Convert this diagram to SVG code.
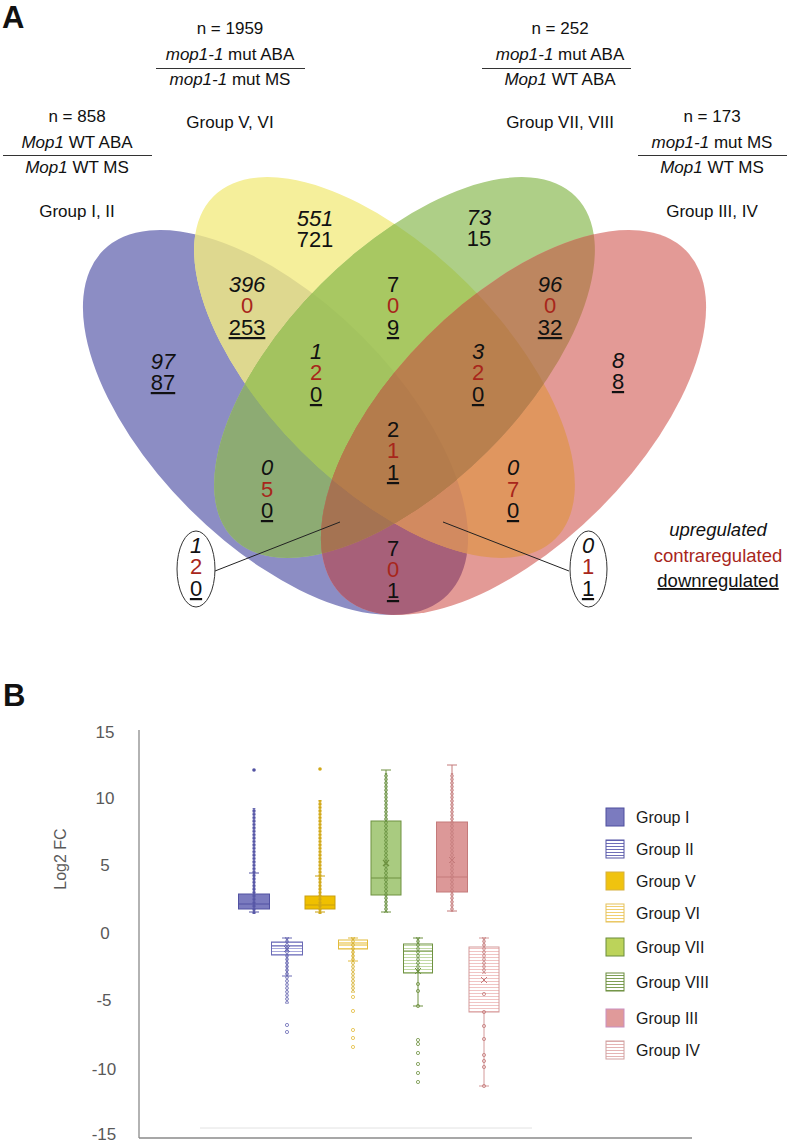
<svg xmlns="http://www.w3.org/2000/svg" xmlns:xlink="http://www.w3.org/1999/xlink" width="789" height="1142" viewBox="0 0 789 1142">
<style>
text{font-family:"Liberation Sans",Arial,sans-serif;fill:#111}
.lab{font-size:17px;text-anchor:middle}
.n{font-size:22px;text-anchor:middle}
.i{font-style:italic}
.c{fill:#a8261b}
.u{text-decoration:underline}
.tick{font-size:17px;text-anchor:middle;fill:#595959}
.leg{font-size:16px;fill:#1a1a1a}
.ax{stroke:#8a8a8a;stroke-width:1.3;fill:none}
.rule{stroke:#333;stroke-width:1}
.bx line,.bx rect{stroke-width:1}
</style>
<defs>
<ellipse id="eB" cx="275.5" cy="422.5" rx="243.5" ry="122" transform="rotate(45 275.5 422.5)"/>
<ellipse id="eY" cx="384.5" cy="367.5" rx="242" ry="118" transform="rotate(45 384.5 367.5)"/>
<ellipse id="eG" cx="404.5" cy="367.5" rx="242" ry="118" transform="rotate(-45 404.5 367.5)"/>
<ellipse id="eR" cx="513.5" cy="422.5" rx="243.5" ry="122" transform="rotate(-45 513.5 422.5)"/>
<clipPath id="cB"><use href="#eB"/></clipPath>
<clipPath id="cY"><use href="#eY"/></clipPath>
<clipPath id="cG"><use href="#eG"/></clipPath>
<pattern id="hB" patternUnits="userSpaceOnUse" width="4" height="3"><rect width="4" height="3" fill="#fff"/><rect width="4" height="1" fill="#a8a8dc"/></pattern>
<pattern id="hY" patternUnits="userSpaceOnUse" width="4" height="3"><rect width="4" height="3" fill="#fff"/><rect width="4" height="1" fill="#f5dc8a"/></pattern>
<pattern id="hG" patternUnits="userSpaceOnUse" width="4" height="3"><rect width="4" height="3" fill="#fff"/><rect width="4" height="1" fill="#c2d9a6"/></pattern>
<pattern id="hR" patternUnits="userSpaceOnUse" width="4" height="3"><rect width="4" height="3" fill="#fff"/><rect width="4" height="1" fill="#f0c4c4"/></pattern>
<pattern id="lhB" patternUnits="userSpaceOnUse" width="4" height="3"><rect width="4" height="3" fill="#fff"/><rect width="4" height="1" fill="#6f6fb8"/></pattern>
<pattern id="lhY" patternUnits="userSpaceOnUse" width="4" height="3"><rect width="4" height="3" fill="#fff"/><rect width="4" height="1" fill="#f0cf70"/></pattern>
<pattern id="lhG" patternUnits="userSpaceOnUse" width="4" height="3"><rect width="4" height="3" fill="#fff"/><rect width="4" height="1" fill="#7f9f55"/></pattern>
<pattern id="lhR" patternUnits="userSpaceOnUse" width="4" height="3"><rect width="4" height="3" fill="#fff"/><rect width="4" height="1" fill="#e4b4b4"/></pattern>
<pattern id="fB" patternUnits="userSpaceOnUse" x="-3" width="6" height="3.4"><circle cx="3" cy="1.7" r="1.7" fill="#5656a6"/></pattern>
<pattern id="fY" patternUnits="userSpaceOnUse" x="-3" width="6" height="3.4"><circle cx="3" cy="1.7" r="1.7" fill="#d1a817"/></pattern>
<pattern id="rB" patternUnits="userSpaceOnUse" x="-3" width="6" height="3.6"><circle cx="3" cy="1.8" r="1.4" fill="none" stroke="#5a5aaa" stroke-width="0.8"/></pattern>
<pattern id="rY" patternUnits="userSpaceOnUse" x="-3" width="6" height="3.6"><circle cx="3" cy="1.8" r="1.4" fill="none" stroke="#d2aa20" stroke-width="0.8"/></pattern>
<pattern id="rG" patternUnits="userSpaceOnUse" x="-3" width="6" height="3.6"><circle cx="3" cy="1.8" r="1.4" fill="none" stroke="#5f8a35" stroke-width="0.8"/></pattern>
<pattern id="rR" patternUnits="userSpaceOnUse" x="-3" width="6" height="3.6"><circle cx="3" cy="1.8" r="1.4" fill="none" stroke="#c47a7a" stroke-width="0.8"/></pattern>
<circle id="o" r="1.6"/>
<path id="mx" d="M-3-3l6 6m0-6l-6 6"/>
</defs>
<rect width="789" height="1142" fill="#fff"/>

<text x="2" y="28" style="font-size:31px;font-weight:bold">A</text>

<g id="venn-sets">
<use href="#eB" fill="#8c8dc4"/>
<use href="#eY" fill="#f5ef9b"/>
<use href="#eG" fill="#aecf87"/>
<use href="#eR" fill="#e39a96"/>
<g clip-path="url(#cB)"><use href="#eY" fill="#ded88f"/><use href="#eG" fill="#8dab73"/><use href="#eR" fill="#a76079"/></g>
<g clip-path="url(#cY)"><use href="#eG" fill="#a8c862"/><use href="#eR" fill="#e0965f"/></g>
<g clip-path="url(#cG)"><use href="#eR" fill="#bd8660"/></g>
<g clip-path="url(#cB)"><g clip-path="url(#cY)"><use href="#eG" fill="#a3c35f"/><use href="#eR" fill="#d28a60"/></g><g clip-path="url(#cG)"><use href="#eR" fill="#a57352"/></g></g>
<g clip-path="url(#cY)"><g clip-path="url(#cG)"><use href="#eR" fill="#b9804e"/></g></g>
<g clip-path="url(#cB)"><g clip-path="url(#cY)"><g clip-path="url(#cG)"><use href="#eR" fill="#b47c4c"/></g></g></g>
</g>

<g id="set-labels">
<g id="label-mut-aba-ms">
<text class="lab" x="230" y="34">n = 1959</text>
<text class="lab" x="230" y="60"><tspan class="i">mop1-1</tspan> mut ABA</text>
<line class="rule" x1="156" y1="68.5" x2="305" y2="68.5"/>
<text class="lab" x="230" y="85"><tspan class="i">mop1-1</tspan> mut MS</text>
<text class="lab" x="230" y="128">Group V, VI</text>
</g>
<g id="label-wt-aba-ms">
<text class="lab" x="77" y="122">n = 858</text>
<text class="lab" x="77" y="148"><tspan class="i">Mop1</tspan> WT ABA</text>
<line class="rule" x1="3" y1="155.5" x2="152" y2="155.5"/>
<text class="lab" x="77" y="173"><tspan class="i">Mop1</tspan> WT MS</text>
<text class="lab" x="77" y="217">Group I, II</text>
</g>
<g id="label-aba-mut-wt">
<text class="lab" x="560" y="34">n = 252</text>
<text class="lab" x="560" y="60"><tspan class="i">mop1-1</tspan> mut ABA</text>
<line class="rule" x1="482" y1="68.5" x2="631" y2="68.5"/>
<text class="lab" x="560" y="85"><tspan class="i">Mop1</tspan> WT ABA</text>
<text class="lab" x="560" y="128">Group VII, VIII</text>
</g>
<g id="label-ms-mut-wt">
<text class="lab" x="712" y="122">n = 173</text>
<text class="lab" x="712" y="148"><tspan class="i">mop1-1</tspan> mut MS</text>
<line class="rule" x1="638" y1="155.5" x2="787" y2="155.5"/>
<text class="lab" x="712" y="173"><tspan class="i">Mop1</tspan> WT MS</text>
<text class="lab" x="712" y="217">Group III, IV</text>
</g>
</g>

<g id="venn-counts">
<text class="n i" x="315" y="226">551</text><text class="n" x="315" y="247">721</text>
<text class="n i" x="479" y="225">73</text><text class="n" x="479" y="246">15</text>
<text class="n i" x="247" y="292">396</text><text class="n c" x="247" y="313">0</text><text class="n u" x="247" y="335">253</text>
<text class="n" x="393" y="292">7</text><text class="n c" x="393" y="313">0</text><text class="n u" x="393" y="335">9</text>
<text class="n i" x="550" y="292">96</text><text class="n c" x="550" y="313">0</text><text class="n u" x="550" y="335">32</text>
<text class="n i" x="163" y="369">97</text><text class="n u" x="163" y="390">87</text>
<text class="n i" x="618" y="368">8</text><text class="n u" x="618" y="389">8</text>
<text class="n i" x="316" y="359">1</text><text class="n c" x="316" y="380">2</text><text class="n u" x="316" y="402">0</text>
<text class="n i" x="478" y="359">3</text><text class="n c" x="478" y="380">2</text><text class="n u" x="478" y="402">0</text>
<text class="n" x="393" y="437">2</text><text class="n c" x="393" y="458">1</text><text class="n u" x="393" y="480">1</text>
<text class="n i" x="267" y="475">0</text><text class="n c" x="267" y="497">5</text><text class="n u" x="267" y="518">0</text>
<text class="n i" x="513" y="475">0</text><text class="n c" x="513" y="497">7</text><text class="n u" x="513" y="518">0</text>
<text class="n" x="393" y="556">7</text><text class="n c" x="393" y="577">0</text><text class="n u" x="393" y="598">1</text>
</g>

<g id="connectors">
<line x1="215" y1="571" x2="340" y2="522" stroke="#222" stroke-width="1"/>
<line x1="443" y1="522" x2="569" y2="571" stroke="#222" stroke-width="1"/>
</g>

<g id="callout-left">
<ellipse cx="196" cy="569" rx="19" ry="38" fill="#fff" stroke="#333" stroke-width="1"/>
<text class="n i" x="196" y="553">1</text><text class="n c" x="196" y="574">2</text><text class="n u" x="196" y="596">0</text>
</g>
<g id="callout-right">
<ellipse cx="588.5" cy="569" rx="18.5" ry="38" fill="#fff" stroke="#333" stroke-width="1"/>
<text class="n i" x="588" y="553">0</text><text class="n c" x="588" y="574">1</text><text class="n u" x="588" y="596">1</text>
</g>

<g id="venn-legend" style="font-size:18.5px">
<text x="718" y="536" text-anchor="middle" class="i" style="font-size:18.5px">upregulated</text>
<text x="718" y="562" text-anchor="middle" class="c" style="font-size:18.5px">contraregulated</text>
<text x="718" y="587" text-anchor="middle" class="u" style="font-size:18.5px">downregulated</text>
</g>

<text x="3" y="706" style="font-size:31px;font-weight:bold">B</text>

<g id="axes">
<line class="ax" x1="139" y1="730" x2="139" y2="1138"/>
<line class="ax" x1="139" y1="1138" x2="692" y2="1138"/>
<line x1="200" y1="1128" x2="532" y2="1128" stroke="#e2e2e2" stroke-width="1"/>
<text class="tick" x="105" y="738">15</text>
<text class="tick" x="105" y="804">10</text>
<text class="tick" x="105" y="871">5</text>
<text class="tick" x="105" y="939">0</text>
<text class="tick" x="104" y="1006">-5</text>
<text class="tick" x="104" y="1075">-10</text>
<text class="tick" x="104" y="1140">-15</text>
<text transform="translate(66 859) rotate(-90)" text-anchor="middle" style="font-size:16px;fill:#595959">Log2 FC</text>
</g>

<g id="box-group-I" class="bx" transform="translate(254 0)" stroke="#5252a2">
<line x1="0" y1="873" x2="0" y2="912"/><line x1="-5" y1="873" x2="5" y2="873"/><line x1="-5" y1="912" x2="5" y2="912"/>
<rect x="-15.5" y="894" width="31" height="15" fill="#7b7bbf"/>
<line x1="-15.5" y1="904" x2="15.5" y2="904"/>
<rect x="-3" y="808" width="6" height="106" fill="url(#fB)" stroke="none"/>
<circle cy="770" r="1.8" fill="#5252a2" stroke="none"/>
</g>
<g id="box-group-II" class="bx" transform="translate(287 0)" stroke="#6a6ab4">
<line x1="0" y1="938" x2="0" y2="976"/><line x1="-5" y1="938" x2="5" y2="938"/><line x1="-5" y1="976" x2="5" y2="976"/>
<rect x="-15.5" y="942" width="31" height="13" fill="url(#hB)"/>
<line x1="-15.5" y1="946" x2="15.5" y2="946"/>
<rect x="-3" y="937" width="6" height="67" fill="url(#rB)" stroke="none"/>
<g fill="none" stroke-width="0.8"><use href="#o" y="1025"/><use href="#o" y="1032"/></g>
<use href="#mx" y="949" stroke-width="1"/>
</g>
<g id="box-group-V" class="bx" transform="translate(320 0)" stroke="#c9a010">
<line x1="0" y1="876" x2="0" y2="912"/><line x1="-5" y1="876" x2="5" y2="876"/><line x1="-5" y1="912" x2="5" y2="912"/>
<rect x="-15" y="896" width="30" height="13" fill="#f0c000"/>
<line x1="-15" y1="905" x2="15" y2="905"/>
<rect x="-3" y="800" width="6" height="114" fill="url(#fY)" stroke="none"/>
<circle cy="769" r="1.8" fill="#d1a817" stroke="none"/>
</g>
<g id="box-group-VI" class="bx" transform="translate(353 0)" stroke="#e2bb3c">
<line x1="0" y1="938" x2="0" y2="961"/><line x1="-5" y1="938" x2="5" y2="938"/><line x1="-5" y1="961" x2="5" y2="961"/>
<rect x="-14.5" y="940" width="29" height="9" fill="url(#hY)"/>
<line x1="-14.5" y1="944" x2="14.5" y2="944"/>
<rect x="-3" y="937" width="6" height="56" fill="url(#rY)" stroke="none"/>
<g fill="none" stroke-width="0.8"><use href="#o" y="997"/><use href="#o" y="1011"/><use href="#o" y="1030"/><use href="#o" y="1038"/><use href="#o" y="1047"/></g>
</g>
<g id="box-group-VII" class="bx" transform="translate(386 0)" stroke="#6e9140">
<line x1="0" y1="770" x2="0" y2="912"/><line x1="-5" y1="770" x2="5" y2="770"/><line x1="-5" y1="912" x2="5" y2="912"/>
<rect x="-15" y="821" width="30" height="74" fill="#a9cb80"/>
<line x1="-15" y1="878" x2="15" y2="878"/>
<rect x="-3" y="773" width="6" height="140" fill="url(#rG)" stroke="none"/>
<use href="#mx" y="863" stroke-width="1.2"/>
</g>
<g id="box-group-VIII" class="bx" transform="translate(418 0)" stroke="#6e9140">
<line x1="0" y1="938" x2="0" y2="1006"/><line x1="-5" y1="938" x2="5" y2="938"/><line x1="-5" y1="1006" x2="5" y2="1006"/>
<rect x="-14.5" y="944" width="29" height="29" fill="url(#hG)"/>
<line x1="-14.5" y1="951" x2="14.5" y2="951"/>
<rect x="-3" y="937" width="6" height="36" fill="url(#rG)" stroke="none"/>
<g fill="none" stroke-width="0.8"><use href="#o" y="984"/><use href="#o" y="991"/><use href="#o" y="1006"/><use href="#o" y="1040"/><use href="#o" y="1044"/><use href="#o" y="1053"/><use href="#o" y="1064"/><use href="#o" y="1073"/><use href="#o" y="1082"/></g>
<use href="#mx" y="971" stroke-width="1"/>
</g>
<g id="box-group-III" class="bx" transform="translate(452 0)" stroke="#c47a7a">
<line x1="0" y1="765" x2="0" y2="911"/><line x1="-5" y1="765" x2="5" y2="765"/><line x1="-5" y1="911" x2="5" y2="911"/>
<rect x="-15.5" y="822" width="31" height="70" fill="#dc9898"/>
<line x1="-15.5" y1="877" x2="15.5" y2="877"/>
<rect x="-3" y="773" width="6" height="139" fill="url(#rR)" stroke="none"/>
<use href="#mx" y="860" stroke-width="1"/>
</g>
<g id="box-group-IV" class="bx" transform="translate(484 0)" stroke="#d49a9a">
<line x1="0" y1="938" x2="0" y2="1086"/><line x1="-5" y1="938" x2="5" y2="938"/><line x1="-5" y1="1086" x2="5" y2="1086"/>
<rect x="-15" y="947" width="30" height="65" fill="url(#hR)"/>
<rect x="-3" y="937" width="6" height="37" fill="url(#rR)" stroke="none"/>
<g fill="none" stroke="#c47a7a" stroke-width="0.8"><use href="#o" y="994"/><use href="#o" y="1012"/><use href="#o" y="1026"/><use href="#o" y="1039"/><use href="#o" y="1055"/><use href="#o" y="1061"/><use href="#o" y="1067"/><use href="#o" y="1086"/></g>
<use href="#mx" y="980" stroke="#c47a7a" stroke-width="1"/>
</g>

<g id="legend-b">
<g id="leg-I"><rect x="606" y="808" width="18" height="18" fill="#7b7bbf" stroke="#4f4f9e"/><text class="leg" x="636" y="823">Group I</text></g>
<g id="leg-II"><rect x="606" y="840" width="18" height="18" fill="url(#lhB)" stroke="#5555a5"/><text class="leg" x="636" y="855">Group II</text></g>
<g id="leg-V"><rect x="606" y="872" width="18" height="18" fill="#f0c30f" stroke="#d6b040"/><text class="leg" x="636" y="887">Group V</text></g>
<g id="leg-VI"><rect x="606" y="904" width="18" height="18" fill="url(#lhY)" stroke="#e6c15a"/><text class="leg" x="636" y="919">Group VI</text></g>
<g id="leg-VII"><rect x="606" y="938" width="18" height="18" fill="#bcd35a" stroke="#6b8c3c"/><text class="leg" x="636" y="953">Group VII</text></g>
<g id="leg-VIII"><rect x="606" y="973" width="18" height="18" fill="url(#lhG)" stroke="#6b8c3c"/><text class="leg" x="636" y="988">Group VIII</text></g>
<g id="leg-III"><rect x="606" y="1009" width="18" height="18" fill="#e09a9a" stroke="#c98fc0"/><text class="leg" x="636" y="1024">Group III</text></g>
<g id="leg-IV"><rect x="606" y="1041" width="18" height="18" fill="url(#lhR)" stroke="#d0a0a0"/><text class="leg" x="636" y="1056">Group IV</text></g>
</g>
</svg>
